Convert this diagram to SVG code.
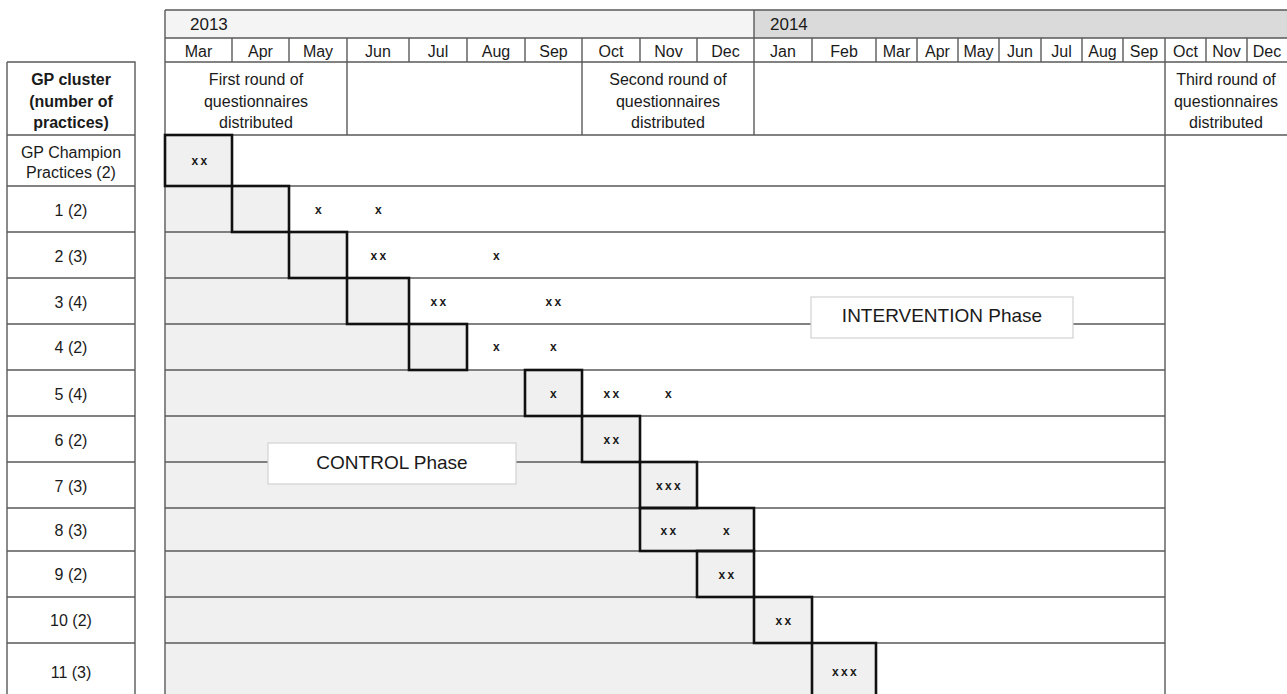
<svg xmlns="http://www.w3.org/2000/svg" width="1287" height="694" viewBox="0 0 1287 694">
<style>
text{font-family:"Liberation Sans",Arial,sans-serif;fill:#1a1a1a}
.t{font-size:16px;text-anchor:middle}
.b{font-weight:bold}
.yr{font-size:17px}
.x{font-size:12px;font-weight:bold;text-anchor:middle;letter-spacing:-0.5px}
.ph{font-size:19px;text-anchor:middle}
.thin{stroke:#5a5a5a;stroke-width:1.4;fill:none}
.thick{stroke:#111;stroke-width:2.6;fill:none}
.ctl{fill:#f0f0f0}
.lbl{fill:#fff;stroke:#d2d2d2;stroke-width:1.2}
</style>
<rect width="1287" height="694" fill="#fff"/>

<g id="timeline-header">
  <rect x="165" y="10" width="589" height="28" fill="#f4f4f4"/>
  <rect x="754" y="10" width="533" height="28" fill="#dadada"/>
  <path class="thin" d="M165 10H1287M165 38H1287M165 62H1287M754 10V38"/>
  <path class="thin" d="M232 38V62M289 38V62M347 38V62M409 38V62M467 38V62M525 38V62M582 38V62M640 38V62M697 38V62M754 38V62M812 38V62M876 38V62M917 38V62M958 38V62M999 38V62M1041 38V62M1082 38V62M1123 38V62M1165 38V62M1206 38V62M1247 38V62"/>
  <text class="yr" x="190" y="30">2013</text>
  <text class="yr" x="770" y="30">2014</text>
  <g class="t">
    <text class="t" x="198.5" y="57">Mar</text>
    <text class="t" x="260.5" y="57">Apr</text>
    <text class="t" x="318" y="57">May</text>
    <text class="t" x="378" y="57">Jun</text>
    <text class="t" x="438" y="57">Jul</text>
    <text class="t" x="496" y="57">Aug</text>
    <text class="t" x="553.5" y="57">Sep</text>
    <text class="t" x="611" y="57">Oct</text>
    <text class="t" x="668.5" y="57">Nov</text>
    <text class="t" x="725.5" y="57">Dec</text>
    <text class="t" x="783" y="57">Jan</text>
    <text class="t" x="844" y="57">Feb</text>
    <text class="t" x="896.5" y="57">Mar</text>
    <text class="t" x="937.5" y="57">Apr</text>
    <text class="t" x="978.5" y="57">May</text>
    <text class="t" x="1020" y="57">Jun</text>
    <text class="t" x="1061.5" y="57">Jul</text>
    <text class="t" x="1102.5" y="57">Aug</text>
    <text class="t" x="1144" y="57">Sep</text>
    <text class="t" x="1185.5" y="57">Oct</text>
    <text class="t" x="1226.5" y="57">Nov</text>
    <text class="t" x="1267" y="57">Dec</text>
  </g>
</g>

<g id="questionnaire-rounds">
  <path class="thin" d="M347 62V135M582 62V135M754 62V135M1165 62V694M165 135H1287"/>
  <text class="t"><tspan x="256" y="85">First round of</tspan><tspan x="256" y="107">questionnaires</tspan><tspan x="256" y="128">distributed</tspan></text>
  <text class="t"><tspan x="668" y="85">Second round of</tspan><tspan x="668" y="107">questionnaires</tspan><tspan x="668" y="128">distributed</tspan></text>
  <text class="t"><tspan x="1226" y="85">Third round of</tspan><tspan x="1226" y="107">questionnaires</tspan><tspan x="1226" y="128">distributed</tspan></text>
</g>

<g id="cluster-column">
  <path class="thin" d="M7 62H135V694M7 62V694M7 135H135M7 186H135M7 232H135M7 278H135M7 324H135M7 370H135M7 416H135M7 462H135M7 508H135M7 551H135M7 597H135M7 643H135"/>
  <text class="t b"><tspan x="71" y="85">GP cluster</tspan><tspan x="71" y="107">(number of</tspan><tspan x="71" y="128">practices)</tspan></text>
  <text class="t"><tspan x="71" y="158">GP Champion</tspan><tspan x="71" y="178">Practices (2)</tspan></text>
  <text class="t" x="71" y="216">1 (2)</text>
  <text class="t" x="71" y="262">2 (3)</text>
  <text class="t" x="71" y="308">3 (4)</text>
  <text class="t" x="71" y="353">4 (2)</text>
  <text class="t" x="71" y="400">5 (4)</text>
  <text class="t" x="71" y="446">6 (2)</text>
  <text class="t" x="71" y="492">7 (3)</text>
  <text class="t" x="71" y="536">8 (3)</text>
  <text class="t" x="71" y="580">9 (2)</text>
  <text class="t" x="71" y="626">10 (2)</text>
  <text class="t" x="71" y="678">11 (3)</text>
</g>

<g id="control-fill">
  <rect class="ctl" x="165" y="135" width="67" height="51"/>
  <rect class="ctl" x="165" y="186" width="124" height="46"/>
  <rect class="ctl" x="165" y="232" width="182" height="46"/>
  <rect class="ctl" x="165" y="278" width="244" height="46"/>
  <rect class="ctl" x="165" y="324" width="302" height="46"/>
  <rect class="ctl" x="165" y="370" width="417" height="46"/>
  <rect class="ctl" x="165" y="416" width="475" height="46"/>
  <rect class="ctl" x="165" y="462" width="532" height="46"/>
  <rect class="ctl" x="165" y="508" width="589" height="43"/>
  <rect class="ctl" x="165" y="551" width="589" height="46"/>
  <rect class="ctl" x="165" y="597" width="647" height="46"/>
  <rect class="ctl" x="165" y="643" width="711" height="51"/>
</g>

<g id="connectors">
  <path class="thin" d="M165 10V694M165 186H1165M165 232H1165M165 278H1165M165 324H1165M165 370H1165M165 416H1165M165 462H1165M165 508H1165M165 551H1165M165 597H1165M165 643H1165"/>
</g>

<g id="row-gp-champion"><rect class="thick" x="165" y="135" width="67" height="51"/><text class="x" x="199" y="165">x x</text></g>
<g id="row-1"><rect class="thick" x="232" y="186" width="57" height="46"/><text class="x" x="318" y="214">x</text><text class="x" x="378" y="214">x</text></g>
<g id="row-2"><rect class="thick" x="289" y="232" width="58" height="46"/><text class="x" x="378" y="260">x x</text><text class="x" x="496" y="260">x</text></g>
<g id="row-3"><rect class="thick" x="347" y="278" width="62" height="46"/><text class="x" x="438" y="306">x x</text><text class="x" x="553" y="306">x x</text></g>
<g id="row-4"><rect class="thick" x="409" y="324" width="58" height="46"/><text class="x" x="496" y="351">x</text><text class="x" x="553" y="351">x</text></g>
<g id="row-5"><rect class="thick" x="525" y="370" width="57" height="46"/><text class="x" x="553" y="398">x</text><text class="x" x="611" y="398">x x</text><text class="x" x="668" y="398">x</text></g>
<g id="row-6"><rect class="thick" x="582" y="416" width="58" height="46"/><text class="x" x="611" y="444">x x</text></g>
<g id="row-7"><rect class="thick" x="640" y="462" width="57" height="46"/><text class="x" x="668" y="490">x x x</text></g>
<g id="row-8"><rect class="thick" x="640" y="508" width="114" height="43"/><text class="x" x="668" y="535">x x</text><text class="x" x="726" y="535">x</text></g>
<g id="row-9"><rect class="thick" x="697" y="551" width="57" height="46"/><text class="x" x="726" y="579">x x</text></g>
<g id="row-10"><rect class="thick" x="754" y="597" width="58" height="46"/><text class="x" x="783" y="625">x x</text></g>
<g id="row-11"><path class="thick" d="M812 700V643H876V700"/><text class="x" x="844" y="676">x x x</text></g>

<g id="control-phase-label"><rect class="lbl" x="268" y="443" width="248" height="41"/><text class="ph" x="392" y="469">CONTROL Phase</text></g>
<g id="intervention-phase-label"><rect class="lbl" x="811" y="297" width="262" height="41"/><text class="ph" x="942" y="322">INTERVENTION Phase</text></g>
</svg>
